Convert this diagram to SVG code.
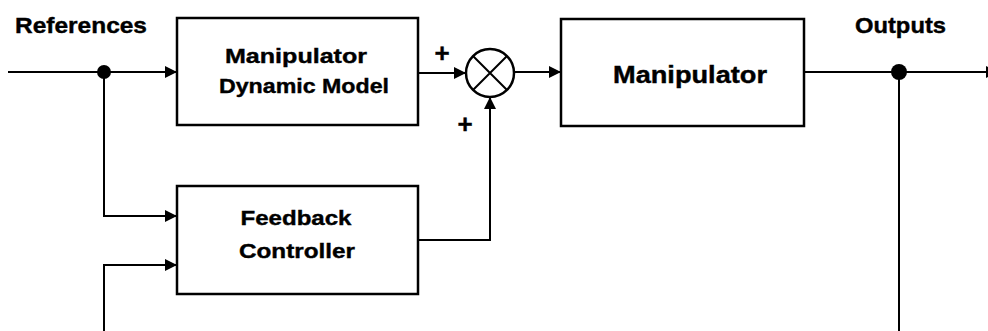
<svg xmlns="http://www.w3.org/2000/svg" width="988" height="331" viewBox="0 0 988 331">
<style>
.box{fill:#fff;stroke:#000;stroke-width:2.5}
.ln{fill:none;stroke:#000;stroke-width:2}
.t{font-family:"Liberation Sans",Arial,sans-serif;font-weight:bold;fill:#000;stroke:#000;stroke-width:0.4}
</style>
<defs>
<marker id="arr" viewBox="0 0 12 12" refX="12" refY="6" markerWidth="12" markerHeight="12" markerUnits="userSpaceOnUse" orient="auto">
<path d="M0,0 L12,6 L0,12 Z" fill="#000"/>
</marker>
</defs>
<rect width="988" height="331" fill="#fff"/>
<g id="connectors">
<path class="ln" d="M8 72 H177" marker-end="url(#arr)"/>
<path class="ln" d="M104 72 V216 H177" marker-end="url(#arr)"/>
<path class="ln" d="M104 331 V265 H177" marker-end="url(#arr)"/>
<path class="ln" d="M418 73 H466" marker-end="url(#arr)"/>
<path class="ln" d="M514 72 H561" marker-end="url(#arr)"/>
<path class="ln" d="M418 240 H490 V97" marker-end="url(#arr)"/>
<path class="ln" d="M804 72 H998" marker-end="url(#arr)"/>
<path class="ln" d="M899 72 V331"/>
<circle cx="104" cy="72" r="7" fill="#000"/>
<circle cx="899" cy="72" r="8" fill="#000"/>
</g>
<g id="references-label"><text class="t" x="15" y="33" font-size="22" textLength="132" lengthAdjust="spacingAndGlyphs">References</text></g>
<g id="outputs-label"><text class="t" x="855" y="33" font-size="22" textLength="91" lengthAdjust="spacingAndGlyphs">Outputs</text></g>
<g id="dynamic-model">
<rect class="box" x="177" y="18" width="241" height="107"/>
<text class="t" x="296" y="63" font-size="21" text-anchor="middle" textLength="142" lengthAdjust="spacingAndGlyphs">Manipulator</text>
<text class="t" x="304" y="93" font-size="21" text-anchor="middle" textLength="170" lengthAdjust="spacingAndGlyphs">Dynamic Model</text>
</g>
<g id="feedback-controller">
<rect class="box" x="177" y="186" width="241" height="108"/>
<text class="t" x="296" y="225" font-size="21" text-anchor="middle" textLength="111" lengthAdjust="spacingAndGlyphs">Feedback</text>
<text class="t" x="297" y="258" font-size="21" text-anchor="middle" textLength="116" lengthAdjust="spacingAndGlyphs">Controller</text>
</g>
<g id="summing-junction">
<circle cx="490" cy="73" r="24" fill="#fff" stroke="#000" stroke-width="2.5"/>
<path class="ln" d="M473 56 L507 90 M507 56 L473 90"/>
<text class="t" x="442" y="62" font-size="26" text-anchor="middle">+</text>
<text class="t" x="465" y="133" font-size="26" text-anchor="middle">+</text>
</g>
<g id="manipulator">
<rect class="box" x="561" y="19" width="243" height="107"/>
<text class="t" x="690" y="83" font-size="23" text-anchor="middle" textLength="154" lengthAdjust="spacingAndGlyphs">Manipulator</text>
</g>
</svg>
